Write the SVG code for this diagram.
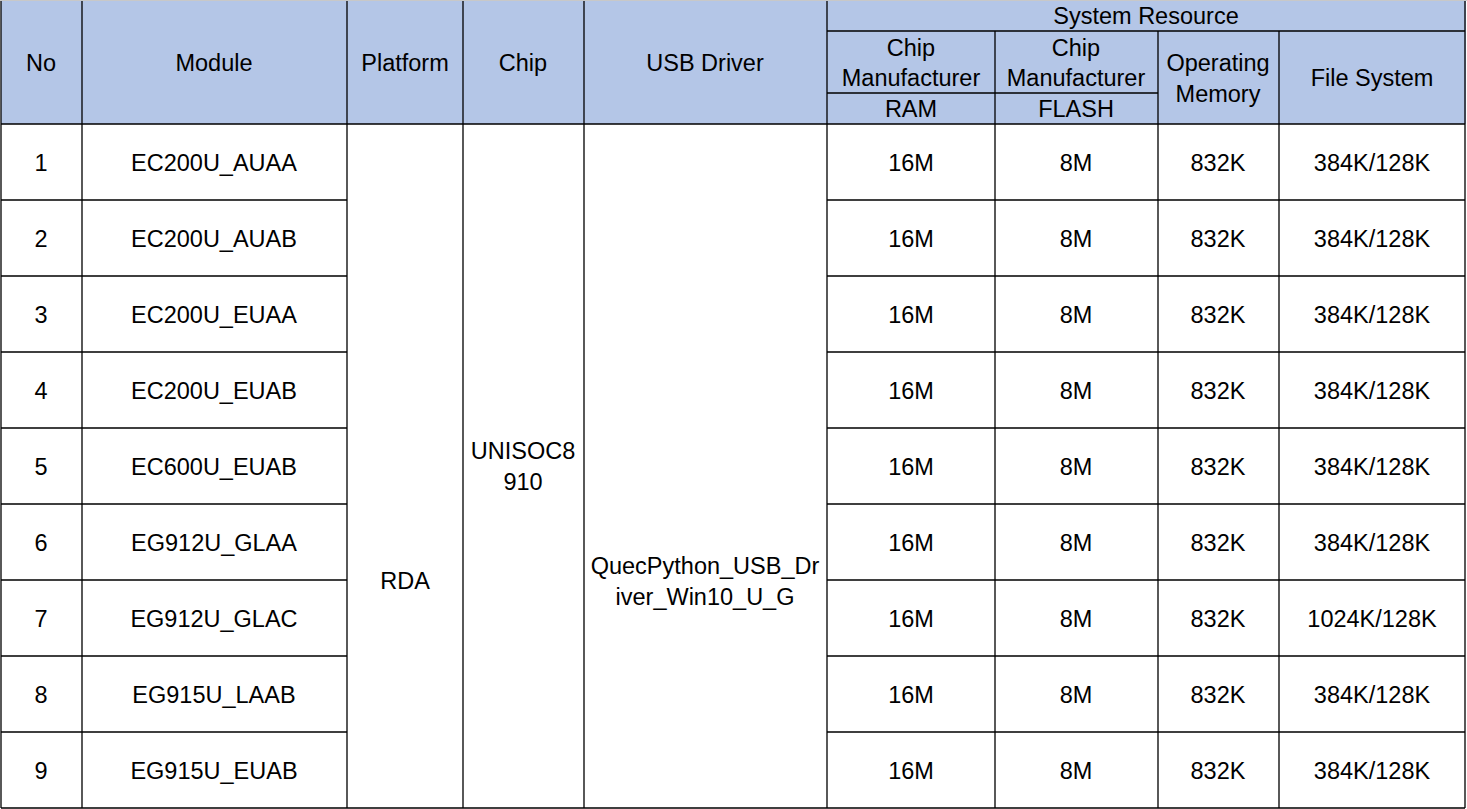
<svg xmlns="http://www.w3.org/2000/svg" width="1467" height="809" viewBox="0 0 1467 809">
<style>
text{font-family:"Liberation Sans",Arial,sans-serif;font-size:23.5px;fill:#000;text-anchor:middle}
.l{stroke:#000;stroke-width:1.3;fill:none}
</style>
<rect width="1467" height="809" fill="#fff"/>
<rect x="1" y="1" width="1465" height="123" fill="#B4C6E7"/>
<line x1="0" y1="0.5" x2="1467" y2="0.5" stroke="#c8c8c8"/>
<g id="grid" class="l">
<path d="M1,1V808M82,1V808M347,1V808M463,1V808M584,1V808M827,1V808M995,31V808M1158,31V808M1279,31V808M1465,1V808"/>
<path d="M827,31H1465M827,93H1158M1,124H1465M1,808H1465"/>
<path d="M1,200H347M827,200H1465M1,276H347M827,276H1465M1,352H347M827,352H1465M1,428H347M827,428H1465M1,504H347M827,504H1465M1,580H347M827,580H1465M1,656H347M827,656H1465M1,732H347M827,732H1465"/>
</g>
<g id="header">
<text x="41" y="71">No</text>
<text x="214" y="71">Module</text>
<text x="405" y="71">Platform</text>
<text x="523" y="71">Chip</text>
<text x="705" y="71">USB Driver</text>
<text x="1146" y="24">System Resource</text>
<text x="911" y="56">Chip</text>
<text x="911" y="86">Manufacturer</text>
<text x="911" y="117">RAM</text>
<text x="1076" y="56">Chip</text>
<text x="1076" y="86">Manufacturer</text>
<text x="1076" y="117">FLASH</text>
<text x="1218" y="71">Operating</text>
<text x="1218" y="102">Memory</text>
<text x="1372" y="86">File System</text>
</g>
<g id="merged">
<text x="405" y="589">RDA</text>
<text x="523" y="459">UNISOC8</text>
<text x="523" y="490">910</text>
<text x="705" y="574">QuecPython_USB_Dr</text>
<text x="705" y="605">iver_Win10_U_G</text>
</g>
<g id="rows">
<text x="41" y="171">1</text><text x="214" y="171">EC200U_AUAA</text><text x="911" y="171">16M</text><text x="1076" y="171">8M</text><text x="1218" y="171">832K</text><text x="1372" y="171">384K/128K</text>
<text x="41" y="247">2</text><text x="214" y="247">EC200U_AUAB</text><text x="911" y="247">16M</text><text x="1076" y="247">8M</text><text x="1218" y="247">832K</text><text x="1372" y="247">384K/128K</text>
<text x="41" y="323">3</text><text x="214" y="323">EC200U_EUAA</text><text x="911" y="323">16M</text><text x="1076" y="323">8M</text><text x="1218" y="323">832K</text><text x="1372" y="323">384K/128K</text>
<text x="41" y="399">4</text><text x="214" y="399">EC200U_EUAB</text><text x="911" y="399">16M</text><text x="1076" y="399">8M</text><text x="1218" y="399">832K</text><text x="1372" y="399">384K/128K</text>
<text x="41" y="475">5</text><text x="214" y="475">EC600U_EUAB</text><text x="911" y="475">16M</text><text x="1076" y="475">8M</text><text x="1218" y="475">832K</text><text x="1372" y="475">384K/128K</text>
<text x="41" y="551">6</text><text x="214" y="551">EG912U_GLAA</text><text x="911" y="551">16M</text><text x="1076" y="551">8M</text><text x="1218" y="551">832K</text><text x="1372" y="551">384K/128K</text>
<text x="41" y="627">7</text><text x="214" y="627">EG912U_GLAC</text><text x="911" y="627">16M</text><text x="1076" y="627">8M</text><text x="1218" y="627">832K</text><text x="1372" y="627">1024K/128K</text>
<text x="41" y="703">8</text><text x="214" y="703">EG915U_LAAB</text><text x="911" y="703">16M</text><text x="1076" y="703">8M</text><text x="1218" y="703">832K</text><text x="1372" y="703">384K/128K</text>
<text x="41" y="779">9</text><text x="214" y="779">EG915U_EUAB</text><text x="911" y="779">16M</text><text x="1076" y="779">8M</text><text x="1218" y="779">832K</text><text x="1372" y="779">384K/128K</text>
</g>
</svg>
